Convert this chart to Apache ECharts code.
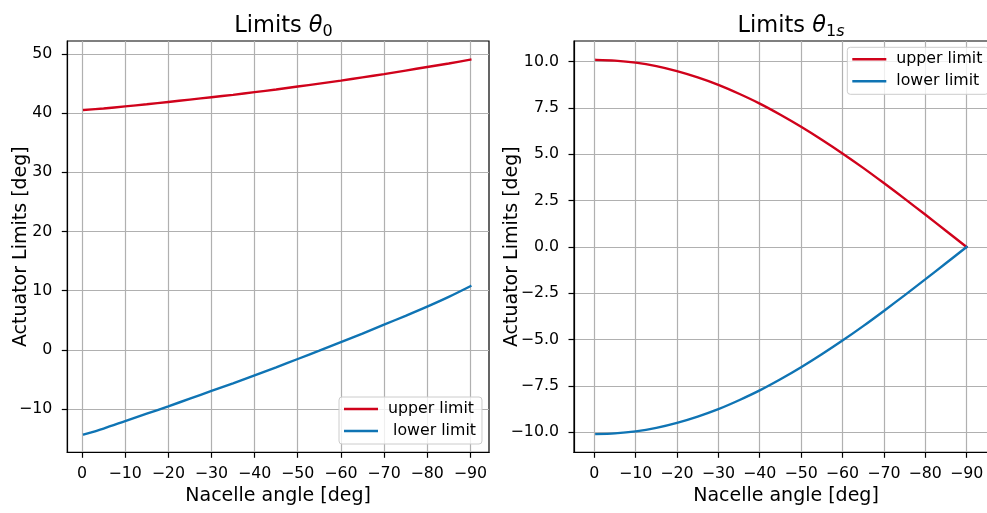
<!DOCTYPE html>
<html><head><meta charset="utf-8">
<script src="https://cdn.jsdelivr.net/npm/echarts@6/dist/echarts.min.js"></script>
<style>html,body{margin:0;padding:0;background:#fff}#c{width:987px;height:513px}</style>
</head><body><div id="c"></div>
<script>
// Nacelle angle samples [deg]
const nacelleAngles = [-0.5, -5, -10, -15, -20, -25, -30, -35, -40, -45, -50, -55, -60, -65, -70, -75, -80, -85, -90];
// Limits theta_0 [deg]
const theta0Upper = [40.55, 40.8, 41.15, 41.5, 41.9, 42.3, 42.7, 43.1, 43.55, 44.0, 44.5, 45.0, 45.5, 46.05, 46.6, 47.2, 47.8, 48.4, 49.05];
const theta0Lower = [-14.3, -13.3, -12.05, -10.8, -9.55, -8.25, -6.95, -5.65, -4.3, -2.95, -1.55, -0.15, 1.3, 2.75, 4.25, 5.75, 7.3, 8.95, 10.75];
// Limits theta_1s [deg]
const theta1sUpper = [10.1, 10.06, 9.95, 9.76, 9.49, 9.15, 8.75, 8.27, 7.74, 7.14, 6.49, 5.79, 5.05, 4.27, 3.45, 2.61, 1.75, 0.88, 0.0];
const theta1sLower = [-10.1, -10.06, -9.95, -9.76, -9.49, -9.15, -8.75, -8.27, -7.74, -7.14, -6.49, -5.79, -5.05, -4.27, -3.45, -2.61, -1.75, -0.88, 0.0];
// Tick labels
const xTicks = [0, -10, -20, -30, -40, -50, -60, -70, -80, -90];
const theta0Ticks = [-10, 0, 10, 20, 30, 40, 50];
const theta1sTicks = [-10, -7.5, -5, -2.5, 0, 2.5, 5, 7.5, 10];

const FONT = 'DejaVu Sans';
const RED = '#d0021b';
const BLUE = '#0f74b4';
const minus = s => String(s).replace('-', '\u2212');
const zip = ys => nacelleAngles.map((x, i) => [x, ys[i]]);

function xAxis(gridIndex, min, max) {
  return {
    type: 'value', gridIndex, min, max, inverse: true,
    name: 'Nacelle angle [deg]', nameLocation: 'middle', nameGap: 34, nameMoveOverlap: false,
    nameTextStyle: {fontFamily: FONT, fontSize: 19, color: '#000'},
    axisLine: {show: true, onZero: false, lineStyle: {color: '#000', width: 1.2}},
    axisTick: {show: true, length: 5.5, lineStyle: {color: '#000', width: 1.2}, customValues: xTicks},
    axisLabel: {margin: 14, fontFamily: FONT, fontSize: 15.8, color: '#000', customValues: xTicks,
      formatter: v => minus(v)},
    splitLine: {show: true, lineStyle: {color: '#b0b0b0', width: 1.2}}
  };
}
function yAxis(gridIndex, min, max, ticks, fmt, gap) {
  return {
    type: 'value', gridIndex, min, max,
    name: 'Actuator Limits [deg]', nameLocation: 'middle', nameGap: gap, nameRotate: 90, nameMoveOverlap: false,
    nameTextStyle: {fontFamily: FONT, fontSize: 19, color: '#000'},
    axisLine: {show: true, onZero: false, lineStyle: {color: '#000', width: 1.2}},
    axisTick: {show: true, length: 5.5, lineStyle: {color: '#000', width: 1.2}, customValues: ticks},
    axisLabel: {margin: 15, fontFamily: FONT, fontSize: 15.8, color: '#000', customValues: ticks,
      formatter: v => minus(fmt(v))},
    splitLine: {show: true, lineStyle: {color: '#b0b0b0', width: 1.2}}
  };
}
function title(subText, cx) {
  return {
    text: '{a|Limits }{t|θ}' + subText, left: cx, top: 7, textAlign: 'center',
    textStyle: {fontWeight: 'normal', rich: {
      a: {fontFamily: FONT, fontSize: 22.5, fontWeight: 'normal', color: '#000', lineHeight: 28},
      t: {fontFamily: FONT, fontSize: 22.5, fontWeight: 'normal', fontStyle: 'italic', color: '#000', lineHeight: 28},
      s: {fontFamily: FONT, fontSize: 16, fontWeight: 'normal', color: '#000', lineHeight: 16, padding: [11, 0, 0, 0]},
      si: {fontFamily: FONT, fontSize: 16, fontWeight: 'normal', fontStyle: 'italic', color: '#000', lineHeight: 16, padding: [11, 0, 0, 0]}
    }}
  };
}
function legend(names, left, top) {
  return {
    data: names, left, top, orient: 'vertical', icon: 'rect', itemWidth: 34, itemHeight: 2.6, itemGap: 6,
    padding: [4, 6, 5, 5], backgroundColor: 'rgba(255,255,255,0.8)', borderColor: '#cccccc', borderWidth: 1,
    borderRadius: 3, selectedMode: false,
    textStyle: {fontFamily: FONT, fontSize: 15.8, color: '#000', lineHeight: 16, padding: [0, 0, 0, 5]}
  };
}
function line(name, xi, data, color) {
  return {
    type: 'line', name, xAxisIndex: xi, yAxisIndex: xi, data, showSymbol: false, symbol: 'none',
    smooth: 0.3,
    color, lineStyle: {color, width: 2.4, cap: 'square'}, animation: false, z: 3
  };
}

const chart = echarts.init(document.getElementById('c'), null, {renderer: 'canvas'});
chart.setOption({
  animation: false,
  backgroundColor: '#fff',
  title: [title('{s|0}', 278.5), title('{s|1}{si|s}', 786)],
  grid: [
    {left: 67.3, top: 41, width: 421.7, height: 411.3, show: true, borderColor: '#000', borderWidth: 1.2, containLabel: false, outerBoundsMode: 'none'},
    {left: 574, top: 41, width: 424, height: 411.3, show: true, borderColor: '#000', borderWidth: 1.2, containLabel: false, outerBoundsMode: 'none'}
  ],
  xAxis: [xAxis(0, -94.33, 3.41), xAxis(1, -97.6, 4.9)],
  yAxis: [
    yAxis(0, -17.32, 52.2, theta0Ticks, v => String(v), 37),
    yAxis(1, -11.08, 11.117, theta1sTicks, v => Number(v).toFixed(1), 52)
  ],
  legend: [
    legend(['upper limit', ' lower limit'], 339, 397),
    legend(['upper limit', 'lower limit'], 847.3, 47.3)
  ],
  series: [
    line('upper limit', 0, zip(theta0Upper), RED),
    line(' lower limit', 0, zip(theta0Lower), BLUE),
    line('upper limit', 1, zip(theta1sUpper), RED),
    line('lower limit', 1, zip(theta1sLower), BLUE)
  ]
});
</script>
</body></html>
